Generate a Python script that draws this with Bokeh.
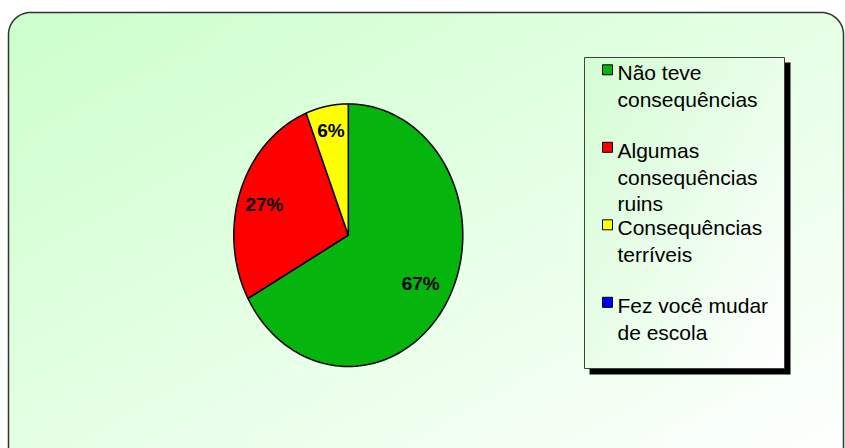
import numpy as np
from bokeh.plotting import figure
from bokeh.models import Range1d
from bokeh.embed import file_html
from bokeh.resources import INLINE
from bokeh.core.properties import value

# ---- data ----
categories = ["Não teve\nconsequências", "Algumas\nconsequências\nruins",
              "Consequências\nterríveis", "Fez você mudar\nde escola"]
values = [67, 27, 6, 0]
colors = ["#05B40C", "#FF0000", "#FFFF00", "#0000FF"]

# ---- layout (screen pixel coordinates of the page) ----
W, H = 845, 448
OX, OY = 0, 0


def Y(ys):
    return OY + H - np.asarray(ys, dtype=float)


p = figure(width=W, height=H, x_range=Range1d(OX, OX + W), y_range=Range1d(0, H),
           output_backend="svg", toolbar_location=None, min_border=0,
           x_axis_location=None, y_axis_location=None)
p.grid.visible = False
p.outline_line_color = None
p.background_fill_color = "white"
p.border_fill_color = "white"


def gradient_image(L, T, R, B, x0, y0, w, h, c0, c1, rad=0.0):
    xs = x0 + np.arange(w) + 0.5
    ys = (y0 + h) - (np.arange(h) + 0.5)  # row 0 is bottom
    xx, yy = np.meshgrid(xs, ys)
    t = np.clip(((xx - L) / (R - L) + (yy - T) / (B - T)) / 2.0, 0, 1)
    c0 = np.array(c0, float)
    c1 = np.array(c1, float)
    col = c0[None, None, :] + (c1 - c0)[None, None, :] * t[..., None]
    if rad > 0:
        qx = np.maximum(np.maximum(L + rad - xx, xx - (R - rad)), 0)
        qy = np.maximum(np.maximum(T + rad - yy, yy - (B - rad)), 0)
        d = np.sqrt(qx ** 2 + qy ** 2) - rad
        a = np.clip(0.5 - d, 0, 1)
    else:
        a = np.ones_like(t)
    final = 255.0 * (1 - a[..., None]) + col * a[..., None]
    img = np.empty((h, w), dtype=np.uint32)
    v = img.view(dtype=np.uint8).reshape((h, w, 4))
    v[..., 0] = final[..., 0]
    v[..., 1] = final[..., 1]
    v[..., 2] = final[..., 2]
    v[..., 3] = 255
    return img


# background rounded panel with diagonal gradient
BL, BT, BR, BB, BRAD = 8, 12, 843, 470, 22
bg = gradient_image(BL, BT, BR, BB, OX, OY, W, H, (204, 255, 204), (255, 255, 255), BRAD)
p.image_rgba(image=[bg], x=OX, y=0, dw=W, dh=H)

# panel outline
a1 = np.linspace(np.pi, 1.5 * np.pi, 20)
a2 = np.linspace(1.5 * np.pi, 2 * np.pi, 20)
ox = np.concatenate([[BL], BL + BRAD + BRAD * np.cos(a1), BR - BRAD + BRAD * np.cos(a2), [BR]])
oy = np.concatenate([[BB], BT + BRAD + BRAD * np.sin(a1), BT + BRAD + BRAD * np.sin(a2), [BB]])
p.line(ox, Y(oy), line_color="#333333", line_width=1.5)

# ---- pie ----
cx, cy, rx, ry = 347.8, 234.7, 114.5, 131.3
total = float(sum(values))
cum = np.concatenate([[0], np.cumsum(values)]) / total
pxs, pys, pcols = [], [], []
for i, v in enumerate(values):
    if v <= 0:
        continue
    th = 2 * np.pi * np.linspace(cum[i], cum[i + 1], 120)
    xs = np.concatenate([[cx], cx + rx * np.sin(th)])
    ys = np.concatenate([[cy], cy - ry * np.cos(th)])
    pxs.append(xs)
    pys.append(Y(ys))
    pcols.append(colors[i])
p.patches(pxs, pys, fill_color=pcols, line_color="black", line_width=1.5)

label_frac = [0.735, 0.75, 0.81, 0.8]
label_dy = [-1, 3, 0, 0]
lx, ly, lt = [], [], []
for i, v in enumerate(values):
    if v <= 0:
        continue
    mid = 2 * np.pi * (cum[i] + cum[i + 1]) / 2
    f = label_frac[i]
    lx.append(cx + f * rx * np.sin(mid) - (3 if i == 1 else 0))
    ly.append(float(Y(cy - f * ry * np.cos(mid) + label_dy[i])))
    lt.append(f"{round(v / total * 100)}%")
p.text(lx, ly, text=lt, text_font=value("Liberation Sans"), text_font_size="19px",
       text_font_style="bold", text_color="black", text_align="center",
       text_baseline="middle")

# ---- legend ----
LL, LT, LR, LB = 584, 57, 784, 368
p.quad(left=LL + 5, right=LR + 6, top=Y(LT + 5), bottom=Y(LB + 6),
       fill_color="black", line_color=None)
lg = gradient_image(LL, LT, LR, LB, LL, LT, LR - LL, LB - LT,
                    (212, 253, 212), (255, 255, 255))
p.image_rgba(image=[lg], x=LL, y=float(Y(LB)), dw=LR - LL, dh=LB - LT)
p.quad(left=LL, right=LR, top=Y(LT), bottom=Y(LB), fill_color=None,
       line_color="#404040", line_width=1)

item_y0, item_step, line_h = 78.3, 77.5, 26.7
text_shift = 6
tx, ty, tt = [], [], []
mx, my, mc = [], [], []
for i, cat in enumerate(categories):
    base = item_y0 + item_step * i
    for j, ln in enumerate(cat.split("\n")):
        tx.append(617)
        ty.append(float(Y(base + line_h * j - text_shift)))
        tt.append(ln)
    mx.append(607)
    my.append(float(Y(base - 9)))
    mc.append(colors[i])
p.text(tx, ty, text=tt, text_font=value("Liberation Sans"), text_font_size="21px",
       text_color="black", text_align="left", text_baseline="alphabetic")
p.scatter(mx, my, marker="square", size=10, fill_color=mc, line_color="black",
          line_width=1)

open("out.html", "w").write(file_html(p, INLINE))
